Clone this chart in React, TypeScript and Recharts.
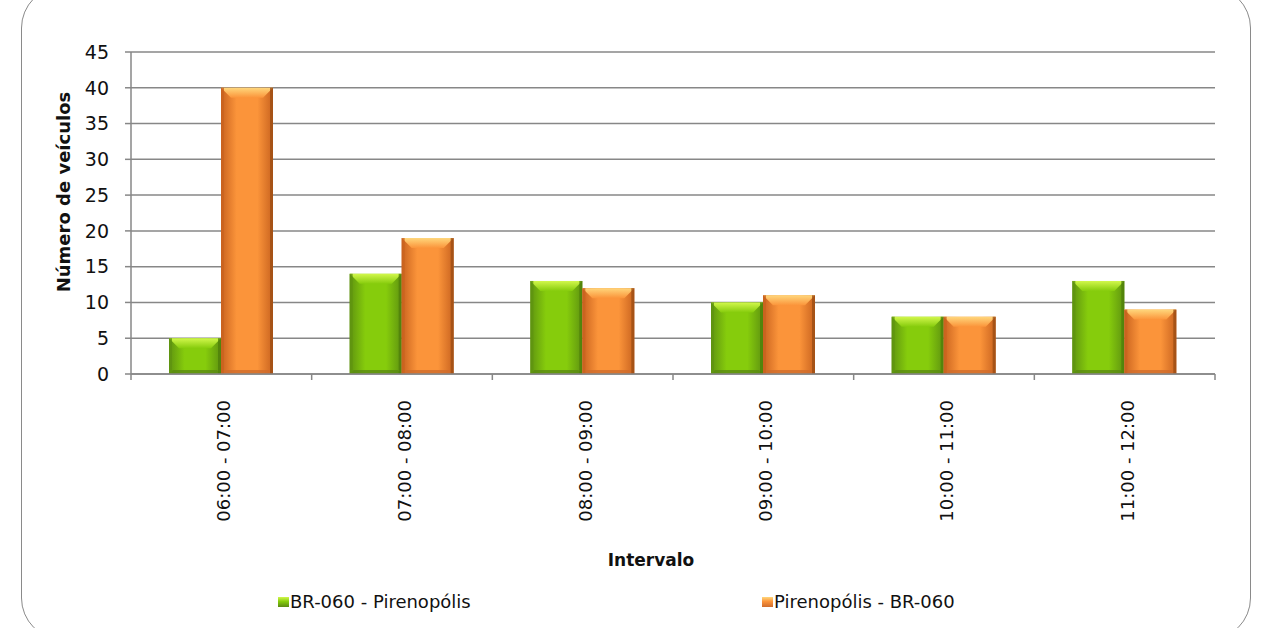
import React from "react";
import { BarChart, Bar, XAxis, YAxis, CartesianGrid } from "recharts";

const intervals = [
  "06:00 - 07:00",
  "07:00 - 08:00",
  "08:00 - 09:00",
  "09:00 - 10:00",
  "10:00 - 11:00",
  "11:00 - 12:00",
];
const brToPirenopolis = [5, 14, 13, 10, 8, 13];
const pirenopolisToBr = [40, 19, 12, 11, 8, 9];
const yTicks = [0, 5, 10, 15, 20, 25, 30, 35, 40, 45];

const seriesNames = ["BR-060 - Pirenopólis", "Pirenopólis - BR-060"];

const data = intervals.map((name, i) => ({
  name,
  green: brToPirenopolis[i],
  orange: pirenopolisToBr[i],
}));

const W = 1275;
const H = 628;
const MARGIN = { top: 52, right: 60, left: 0, bottom: 0 };
const Y_AXIS_W = 131;
const BAND = (W - MARGIN.left - MARGIN.right - Y_AXIS_W) / intervals.length;
const FONT = "'DejaVu Sans', sans-serif";
const AXIS_GRAY = "#878787";

const palette: Record<string, { edge: string; mid: string; top: string; bottom: string; side: string }> = {
  green: { edge: "#5f9410", mid: "#86cc0c", top: "#d2f74c", bottom: "#5a8a12", side: "#4f7f0a" },
  orange: { edge: "#c9631f", mid: "#fb943a", top: "#ffd77c", bottom: "#d06c2c", side: "#9c4d14" },
};

function BevelBar(props: any) {
  const { x, y, width, height, kind } = props;
  if (!height || height <= 0) return null;
  const c = palette[kind];
  const b = Math.min(10, height / 3);
  return (
    <g>
      <rect x={x} y={y} width={width} height={height} fill={`url(#${kind}Body)`} />
      <polygon
        points={`${x},${y} ${x + width},${y} ${x + width - b},${y + b} ${x + b},${y + b}`}
        fill={`url(#${kind}Top)`}
      />
      <polygon
        points={`${x},${y + height} ${x + width},${y + height} ${x + width - 4},${y + height - 4} ${x + 4},${y + height - 4}`}
        fill={c.bottom}
        opacity={0.8}
      />
      <rect x={x} y={y} width={3} height={height} fill={c.edge} opacity={0.8} />
      <rect x={x + width - 3} y={y} width={3} height={height} fill={c.side} opacity={0.8} />
    </g>
  );
}

function XTick(props: any) {
  const { x, y, payload, index } = props;
  const left = x - BAND / 2;
  return (
    <g>
      <line x1={left} x2={left} y1={y} y2={y + 6} stroke={AXIS_GRAY} strokeWidth={1.5} />
      {index === intervals.length - 1 && (
        <line x1={x + BAND / 2} x2={x + BAND / 2} y1={y} y2={y + 6} stroke={AXIS_GRAY} strokeWidth={1.5} />
      )}
      <text
        transform={`translate(${x + 9}, ${y + 26}) rotate(-90)`}
        textAnchor="end"
        fontFamily={FONT}
        fontSize={18}
        fill="#111"
      >
        {payload.value}
      </text>
    </g>
  );
}

function LegendItem({ kind, label, left }: { kind: string; label: string; left: number }) {
  const c = palette[kind];
  return (
    <div
      style={{
        position: "absolute",
        left,
        top: 591,
        display: "flex",
        alignItems: "center",
        fontFamily: FONT,
        fontSize: 18,
        color: "#111",
        whiteSpace: "nowrap",
      }}
    >
      <span
        style={{
          display: "inline-block",
          width: 11,
          height: 10,
          marginRight: 1,
          background: `linear-gradient(to bottom, ${c.top}, ${c.mid} 45%, ${c.bottom})`,
        }}
      />
      {label}
    </div>
  );
}

export default function App() {
  return (
    <div style={{ position: "absolute", left: 0, top: 0, width: W, height: H, overflow: "hidden", background: "#fff" }}>
      <div
        style={{
          position: "absolute",
          left: 21,
          top: -14,
          width: 1230,
          height: 654,
          border: "1.5px solid #8a8a8a",
          borderRadius: 42,
          boxSizing: "border-box",
        }}
      />
      <BarChart width={W} height={H} data={data} margin={MARGIN} barGap={0} barSize={52}>
        <defs>
          {Object.keys(palette).map((k) => (
            <React.Fragment key={k}>
              <linearGradient id={`${k}Body`} x1="0" y1="0" x2="1" y2="0">
                <stop offset="0" stopColor={palette[k].edge} />
                <stop offset="0.3" stopColor={palette[k].mid} />
                <stop offset="0.7" stopColor={palette[k].mid} />
                <stop offset="1" stopColor={palette[k].edge} />
              </linearGradient>
              <linearGradient id={`${k}Top`} x1="0" y1="0" x2="0" y2="1">
                <stop offset="0" stopColor={palette[k].top} />
                <stop offset="1" stopColor={palette[k].mid} />
              </linearGradient>
            </React.Fragment>
          ))}
        </defs>
        <CartesianGrid vertical={false} stroke={AXIS_GRAY} strokeWidth={1.5} />
        <XAxis
          dataKey="name"
          height={H - 374 - MARGIN.top + 52}
          interval={0}
          tickLine={false}
          tickSize={0}
          tickMargin={0}
          axisLine={{ stroke: AXIS_GRAY, strokeWidth: 1.5 }}
          tick={<XTick />}
        />
        <YAxis
          width={Y_AXIS_W}
          domain={[0, 45]}
          ticks={yTicks}
          interval={0}
          tickSize={6}
          tickMargin={16}
          axisLine={{ stroke: AXIS_GRAY, strokeWidth: 1.5 }}
          tickLine={{ stroke: AXIS_GRAY, strokeWidth: 1.5 }}
          tick={{ fill: "#111", fontSize: 19, fontFamily: FONT }}
        />
        <Bar dataKey="green" name={seriesNames[0]} isAnimationActive={false} shape={<BevelBar kind="green" />} />
        <Bar dataKey="orange" name={seriesNames[1]} isAnimationActive={false} shape={<BevelBar kind="orange" />} />
      </BarChart>
      <div
        style={{
          position: "absolute",
          left: 63,
          top: 192,
          transform: "translate(-50%, -50%) rotate(-90deg)",
          fontFamily: FONT,
          fontWeight: "bold",
          fontSize: 18,
          color: "#111",
          whiteSpace: "nowrap",
        }}
      >
        Número de veículos
      </div>
      <div
        style={{
          position: "absolute",
          left: 651,
          top: 560,
          transform: "translate(-50%, -50%)",
          fontFamily: FONT,
          fontWeight: "bold",
          fontSize: 17,
          color: "#111",
        }}
      >
        Intervalo
      </div>
      <LegendItem kind="green" label={seriesNames[0]} left={278} />
      <LegendItem kind="orange" label={seriesNames[1]} left={762} />
    </div>
  );
}
